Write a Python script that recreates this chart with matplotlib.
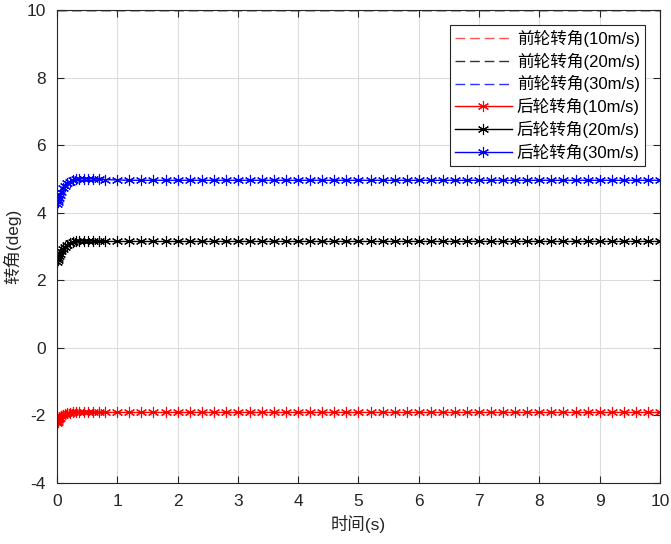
import matplotlib
matplotlib.use('Agg')
import matplotlib.pyplot as plt

plt.rcParams['font.family'] = ['Liberation Sans', 'Noto Sans CJK SC', 'DejaVu Sans']
plt.rcParams['axes.unicode_minus'] = False

# 时间 (s)
t = [0, 0.01, 0.02, 0.03, 0.05, 0.07, 0.10, 0.13, 0.17, 0.21, 0.26, 0.31, 0.37, 0.44, 0.52, 0.60, 0.70, 0.80,
     1.0, 1.2, 1.4, 1.6, 1.8, 2.0, 2.2, 2.4, 2.6, 2.8, 3.0, 3.2, 3.4, 3.6, 3.8, 4.0, 4.2, 4.4, 4.6, 4.8,
     5.0, 5.2, 5.4, 5.6, 5.8, 6.0, 6.2, 6.4, 6.6, 6.8, 7.0, 7.2, 7.4, 7.6, 7.8, 8.0, 8.2, 8.4, 8.6, 8.8,
     9.0, 9.2, 9.4, 9.6, 9.8, 10.0]

# 后轮转角 (deg)
rear_10 = [-2.22, -2.18, -2.14, -2.11, -2.06, -2.02, -1.98, -1.95, -1.93, -1.92, -1.91, -1.91, -1.91, -1.91, -1.91, -1.91, -1.91, -1.91,
           -1.91, -1.91, -1.91, -1.91, -1.91, -1.91, -1.91, -1.91, -1.91, -1.91, -1.91, -1.91, -1.91, -1.91, -1.91, -1.91, -1.91, -1.91, -1.91, -1.91,
           -1.91, -1.91, -1.91, -1.91, -1.91, -1.91, -1.91, -1.91, -1.91, -1.91, -1.91, -1.91, -1.91, -1.91, -1.91, -1.91, -1.91, -1.91, -1.91, -1.91,
           -1.91, -1.91, -1.91, -1.91, -1.91, -1.91]
rear_20 = [2.55, 2.60, 2.66, 2.71, 2.79, 2.86, 2.94, 3.00, 3.06, 3.10, 3.13, 3.15, 3.16, 3.16, 3.16, 3.16, 3.15, 3.15,
           3.15, 3.15, 3.15, 3.15, 3.15, 3.15, 3.15, 3.15, 3.15, 3.15, 3.15, 3.15, 3.15, 3.15, 3.15, 3.15, 3.15, 3.15, 3.15, 3.15,
           3.15, 3.15, 3.15, 3.15, 3.15, 3.15, 3.15, 3.15, 3.15, 3.15, 3.15, 3.15, 3.15, 3.15, 3.15, 3.15, 3.15, 3.15, 3.15, 3.15,
           3.15, 3.15, 3.15, 3.15, 3.15, 3.15]
rear_30 = [4.27, 4.32, 4.38, 4.44, 4.53, 4.62, 4.72, 4.80, 4.87, 4.92, 4.96, 4.99, 5.00, 5.01, 5.01, 5.00, 4.99, 4.98,
           4.97, 4.96, 4.96, 4.96, 4.96, 4.96, 4.96, 4.96, 4.96, 4.96, 4.96, 4.96, 4.96, 4.96, 4.96, 4.96, 4.96, 4.96, 4.96, 4.96,
           4.96, 4.96, 4.96, 4.96, 4.96, 4.96, 4.96, 4.96, 4.96, 4.96, 4.96, 4.96, 4.96, 4.96, 4.96, 4.96, 4.96, 4.96, 4.96, 4.96,
           4.96, 4.96, 4.96, 4.96, 4.96, 4.96]

# 前轮转角 (deg)
t_front = [0, 10]
front_10 = [10, 10]
front_20 = [10, 10]
front_30 = [10, 10]

fig = plt.figure(figsize=(6.71, 5.44), dpi=100)
ax = fig.add_axes([0.085, 0.112, 0.8985, 0.8696])

dash = (7, 3.5)
ax.plot(t_front, front_10, '--', dashes=dash, color='#ff5555', lw=1, label='前轮转角(10m/s)')
ax.plot(t_front, front_20, '--', dashes=dash, color='#333333', lw=1, label='前轮转角(20m/s)')
ax.plot(t_front, front_30, '--', dashes=dash, color='#3333ff', lw=1, label='前轮转角(30m/s)')
star = (6, 2, 0)
ax.plot(t, rear_10, '-', color='r', marker=star, ms=8, mew=0.8, lw=1, label='后轮转角(10m/s)')
ax.plot(t, rear_20, '-', color='k', marker=star, ms=8, mew=0.8, lw=1, label='后轮转角(20m/s)')
ax.plot(t, rear_30, '-', color='b', marker=star, ms=8, mew=0.8, lw=1, label='后轮转角(30m/s)')

ax.set_xlim(0, 10)
ax.set_ylim(-4, 10)
ax.set_xticks(range(0, 11))
ax.set_yticks(range(-4, 11, 2))
ax.grid(True, color='#dcdcdc', lw=0.8)
ax.set_axisbelow(True)
ax.tick_params(direction='in', labelsize=12.5, colors='#262626', length=5, pad=8, top=True, right=True)
for s in ax.spines.values():
    s.set_color('#262626')
ax.set_xlabel('时间(s)', fontsize=12.5, color='#262626', labelpad=4)
ax.set_ylabel('转角(deg)', fontsize=12.5, color='#262626', labelpad=4)

leg = ax.legend(loc='upper right', fontsize=12, fancybox=False, framealpha=1,
                edgecolor='#262626', borderaxespad=0.9, handlelength=3.4, labelspacing=0.33,
                borderpad=0.3, handletextpad=0.3)
leg.get_frame().set_linewidth(0.8)

fig.savefig('out.png', dpi=100)
